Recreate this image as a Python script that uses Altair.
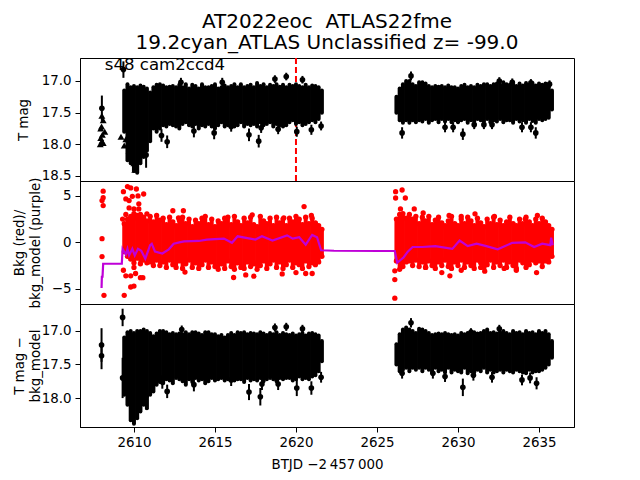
import altair as alt
import pandas as pd

X_A = [2609.4,2609.6,2609.8,2610.0,2610.2,2610.4,2610.6,2610.8,2611.0,2611.2,2611.4,2611.6,2611.8,2612.0,2612.2,2612.4,2612.6,2612.8,2613.0,2613.2,2613.4,2613.6,2613.8,2614.0,2614.2,2614.4,2614.6,2614.8,2615.0,2615.2,2615.4,2615.6,2615.8,2616.0,2616.2,2616.4,2616.6,2616.8,2617.0,2617.2,2617.4,2617.6,2617.8,2618.0,2618.2,2618.4,2618.6,2618.8,2619.0,2619.2,2619.4,2619.6,2619.8,2620.0,2620.2,2620.4,2620.6,2620.8,2621.0,2621.2,2621.4,2621.6]
X_B = [2626.2,2626.4,2626.6,2626.8,2627.0,2627.2,2627.4,2627.6,2627.8,2628.0,2628.2,2628.4,2628.6,2628.8,2629.0,2629.2,2629.4,2629.6,2629.8,2630.0,2630.2,2630.4,2630.6,2630.8,2631.0,2631.2,2631.4,2631.6,2631.8,2632.0,2632.2,2632.4,2632.6,2632.8,2633.0,2633.2,2633.4,2633.6,2633.8,2634.0,2634.2,2634.4,2634.6,2634.8,2635.0,2635.2,2635.4,2635.6,2635.8]

# top panel: extent of the mag error bars per time bin
A1_TOP = [17.15,17.05,17.1,17.08,17.1,17.07,17.09,17.12,17.18,17.1,17.06,17.05,17.07,17.1,17.09,17.08,17.1,17.06,17.1,17.05,17.12,17.06,17.08,17.12,17.05,17.1,17.1,17.08,17.05,17.12,17.1,17.07,17.1,17.08,17.05,17.1,17.05,17.1,17.08,17.06,17.1,17.03,17.08,17.05,17.1,17.06,17.08,17.05,17.09,17.06,17.1,17.06,17.08,17.05,17.08,17.1,17.06,17.1,17.07,17.08,17.1,17.15]
A1_BOT = [17.8,18.25,18.3,18.42,18.45,18.3,18.2,18.1,17.95,17.75,17.8,17.75,17.7,17.72,17.68,17.7,17.72,17.75,17.68,17.65,17.7,17.72,17.68,17.75,17.7,17.72,17.68,17.72,17.75,17.7,17.65,17.72,17.7,17.68,17.72,17.7,17.65,17.72,17.68,17.7,17.68,17.72,17.65,17.7,17.68,17.65,17.72,17.68,17.7,17.72,17.7,17.65,17.62,17.68,17.65,17.7,17.68,17.65,17.62,17.65,17.6,17.5]
B1_TOP = [17.25,17.12,17.05,17.0,17.0,17.05,17.08,17.02,17.02,17.04,17.08,17.1,17.08,17.09,17.08,17.1,17.07,17.1,17.1,17.12,17.08,17.06,17.1,17.08,17.1,17.06,17.08,17.05,17.05,17.08,17.05,17.04,17.06,17.02,17.05,17.06,17.04,17.08,17.04,17.07,17.03,17.06,17.03,17.07,17.04,17.06,17.04,17.08,17.15]
B1_BOT = [17.5,17.62,17.66,17.62,17.66,17.62,17.65,17.62,17.64,17.6,17.66,17.62,17.6,17.65,17.6,17.64,17.6,17.65,17.62,17.65,17.62,17.6,17.66,17.62,17.64,17.6,17.62,17.64,17.6,17.65,17.62,17.64,17.6,17.65,17.62,17.62,17.66,17.6,17.64,17.62,17.66,17.6,17.63,17.66,17.6,17.62,17.6,17.58,17.45]
P1_X = [2609.35,2608.02,2611.7,2612.05,2610.75,2613.7,2614.95,2612.9,2615.45,2618.7,2619.4,2620.4,2617.1,2617.7,2620.05,2620.95,2621.55,2618.9,2617.85,2616.0,2627.1,2626.55,2630.3,2629.2,2629.7,2631.0,2631.6,2632.1,2633.95,2634.5,2634.8,2632.55,2633.35,2634.5,2635.65]
P1_Y = [16.82,17.43,17.86,17.96,18.17,17.79,17.82,17.02,17.02,16.97,16.93,16.98,17.85,17.95,17.8,17.77,17.71,17.76,17.74,17.72,16.92,17.82,17.84,17.73,17.73,17.69,17.69,17.69,17.73,17.73,17.82,17.0,17.02,17.03,17.05]
P1_E = [0.13,0.2,0.1,0.1,0.2,0.1,0.1,0.07,0.07,0.06,0.06,0.06,0.1,0.1,0.08,0.08,0.07,0.08,0.08,0.08,0.07,0.09,0.09,0.08,0.08,0.07,0.07,0.07,0.08,0.08,0.09,0.06,0.06,0.06,0.06]
TRI_X = [2607.92,2608.1,2607.95,2608.05,2608.2,2608.0,2607.95,2608.1,2608.02,2608.02,2609.2,2609.4,2609.5,2609.7,2609.85,2610.0,2610.05]
TRI_Y = [18.0,17.98,17.9,17.85,17.8,17.72,17.75,17.62,17.55,17.95,17.88,18.02,17.92,18.1,18.2,18.3,18.4]

# middle panel: extent of the background cloud per time bin
A2_TOP = [2.0,2.5,2.8,3.1,2.6,3.0,2.7,2.3,2.8,2.2,2.9,2.4,2.6,1.9,2.7,2.2,1.8,2.4,2.7,2.0,2.5,1.7,2.4,2.0,2.6,2.8,1.9,2.5,1.7,2.3,2.0,2.6,2.7,1.9,2.8,2.2,1.8,2.6,2.1,2.7,1.9,1.7,2.8,2.3,2.0,2.6,1.8,2.7,2.1,2.5,1.8,2.6,2.2,2.8,2.5,1.9,2.7,2.0,2.6,2.1,1.8,1.4]
A2_BOT = [-1.0,-1.5,-1.8,-2.2,-1.7,-2.3,-1.9,-2.2,-2.1,-2.5,-1.9,-2.5,-2.1,-2.7,-1.9,-2.4,-2.7,-2.0,-2.8,-2.3,-1.9,-2.7,-2.2,-2.8,-2.4,-1.9,-2.7,-2.1,-2.6,-2.9,-2.3,-2.8,-2.0,-2.6,-2.9,-2.2,-2.7,-2.8,-2.1,-2.6,-2.3,-2.9,-2.5,-2.0,-2.8,-2.3,-1.9,-2.7,-2.1,-2.8,-2.4,-1.9,-2.7,-2.2,-2.4,-2.8,-2.0,-2.6,-2.2,-2.4,-2.1,-1.5]
B2_TOP = [2.5,3.0,3.1,2.6,3.0,2.5,2.8,2.0,2.7,2.3,2.8,1.9,2.4,2.7,2.1,1.8,2.3,2.8,2.0,1.8,2.5,2.0,2.7,2.3,1.8,2.6,2.1,1.7,2.5,2.0,2.7,1.9,2.4,1.8,2.2,2.7,2.0,1.8,2.5,2.0,2.7,2.2,1.8,2.5,2.0,2.6,2.2,1.8,1.4]
B2_BOT = [-2.0,-2.9,-2.6,-2.1,-2.0,-2.5,-1.9,-2.6,-2.1,-2.7,-2.0,-2.5,-2.8,-2.1,-2.5,-1.9,-2.6,-2.8,-2.1,-2.5,-1.9,-2.7,-2.1,-2.5,-2.8,-1.9,-2.2,-2.7,-2.4,-1.9,-2.7,-2.1,-2.5,-1.9,-2.7,-2.1,-2.5,-2.8,-1.9,-2.2,-2.7,-2.4,-1.9,-2.2,-2.0,-2.6,-2.0,-2.1,-1.5]
R_X = [2608.1,2608.1,2608.03,2608.1,2608.03,2608.03,2608.15,2609.4,2609.8,2610.0,2609.35,2610.0,2610.1,2609.8,2609.5,2610.4,2610.55,2609.6,2609.8,2610.15,2609.35,2610.6,2610.25,2609.9,2609.5,2609.7,2610.3,2609.7,2610.3,2610.0,2609.5,2609.3,2610.2,2609.7,2609.5,2612.4,2613.05,2610.8,2613.15,2612.75,2620.5,2617.3,2620.95,2619.25,2616.15,2617.4,2619.15,2620.0,2620.6,2621.0,2616.9,2626.55,2626.15,2626.15,2626.75,2626.45,2627.3,2626.1,2626.1,2626.1,2629.0,2629.5,2630.2,2631.65,2632.85,2633.6,2634.85,2631.4,2628.0,2631.05,2632.25,2629.45,2634.9,2630.2,2627.85,2634.15]
R_Y = [5.5,4.8,4.5,3.96,0.4,-1.53,-5.7,-5.7,-4.8,-4.7,-3.0,-2.7,-3.35,-3.6,-3.6,-3.8,-3.8,6.0,5.85,5.74,5.45,5.2,5.0,4.95,4.67,4.5,4.14,3.7,3.6,3.6,3.0,2.5,2.9,1.8,0.2,3.4,3.4,3.07,-3.2,2.64,3.85,2.96,2.9,2.64,-3.78,-3.64,-3.4,-3.25,-3.35,-3.35,-3.5,5.63,5.45,4.77,4.77,3.6,3.6,-6.0,-4.0,-3.06,-3.25,-3.6,-3.0,-3.1,-2.8,-3.0,-3.25,-2.7,-2.7,3.07,2.78,2.89,2.89,2.78,3.17,2.5]
M_X = [2608.0,2608.02,2608.06,2608.1,2609.25,2609.3,2609.5,2609.6,2609.7,2609.9,2610.05,2610.25,2610.45,2610.7,2611.0,2611.1,2611.3,2611.75,2612.15,2612.45,2612.8,2613.1,2614.0,2614.5,2615.0,2615.55,2616.05,2616.4,2617.0,2617.5,2617.9,2618.55,2619.45,2619.8,2620.2,2620.6,2621.0,2621.3,2621.55,2622.35,2625.15,2626.1,2626.25,2626.65,2626.9,2627.2,2627.8,2628.6,2629.65,2630.1,2630.6,2631.15,2631.75,2632.45,2633.35,2634.15,2634.7,2635.2,2635.7,2635.75,2635.85]
M_Y = [-4.9,-3.7,-3.7,-2.3,-2.3,-0.7,-1.3,-0.7,-1.4,-0.7,-1.4,-0.7,-0.9,-1.75,-0.3,-0.15,-1.0,-1.2,-0.75,-0.15,0.0,0.1,0.15,0.3,0.35,0.4,-0.05,0.65,0.45,0.3,0.65,0.2,0.75,0.4,0.55,-0.25,0.8,0.55,-0.85,-0.9,-0.93,-0.93,-2.2,-1.6,-1.0,-0.5,-0.5,-0.4,-0.7,0.2,-0.4,-0.15,-0.4,-0.75,-0.05,0.0,-0.5,-0.15,-0.3,0.5,-0.3]

# bottom panel
A3_TOP = [17.1,17.02,17.0,17.03,17.0,17.0,16.98,17.0,17.03,17.08,17.04,17.0,17.0,17.02,17.05,17.03,17.05,17.04,17.05,17.02,17.05,17.02,17.02,17.04,17.06,17.02,17.02,17.05,17.05,17.08,17.06,17.1,17.06,17.03,17.06,17.02,17.03,17.02,17.05,17.03,17.04,17.05,17.02,17.04,17.06,17.03,17.05,17.02,17.06,17.03,17.05,17.06,17.04,17.07,17.05,17.03,17.07,17.04,17.03,17.05,17.07,17.15]
A3_BOT = [17.95,18.1,18.33,18.38,18.3,18.2,18.1,18.15,17.95,17.9,17.8,17.76,17.78,17.72,17.74,17.78,17.7,17.72,17.75,17.8,17.72,17.76,17.7,17.74,17.72,17.78,17.75,17.7,17.74,17.72,17.7,17.74,17.72,17.7,17.74,17.72,17.72,17.76,17.7,17.74,17.72,17.74,17.7,17.75,17.72,17.7,17.72,17.75,17.7,17.72,17.7,17.7,17.74,17.72,17.68,17.72,17.7,17.72,17.68,17.66,17.6,17.45]
B3_TOP = [17.2,17.05,16.98,16.95,16.98,17.0,17.03,16.97,16.98,17.0,17.03,17.06,17.05,17.04,17.05,17.03,17.05,17.06,17.05,17.07,17.03,17.05,17.03,17.0,17.02,17.04,17.03,17.0,16.98,17.03,17.02,17.04,17.02,17.0,17.03,17.05,17.0,17.03,17.02,17.05,17.0,17.03,17.02,17.05,17.0,17.03,17.0,17.05,17.15]
B3_BOT = [17.5,17.6,17.58,17.55,17.6,17.55,17.58,17.55,17.6,17.55,17.58,17.62,17.55,17.6,17.58,17.62,17.55,17.62,17.58,17.6,17.62,17.55,17.63,17.6,17.62,17.58,17.6,17.55,17.62,17.58,17.62,17.6,17.58,17.62,17.58,17.6,17.62,17.58,17.6,17.62,17.63,17.58,17.62,17.6,17.6,17.58,17.55,17.5,17.4]
P3_X = [2609.3,2608.0,2608.0,2611.75,2612.05,2610.75,2613.7,2612.95,2609.3,2617.1,2617.8,2618.7,2619.4,2620.4,2620.05,2620.95,2621.55,2618.9,2617.9,2616.0,2627.1,2630.3,2626.55,2628.45,2629.2,2630.95,2632.55,2633.95,2634.45,2634.85,2632.1,2630.8]
P3_Y = [16.8,17.21,17.37,17.76,17.9,17.97,17.8,16.98,17.7,17.91,17.98,16.95,16.94,16.97,17.85,17.85,17.69,17.79,17.79,17.73,16.88,17.84,17.63,17.63,17.68,17.66,16.97,17.73,17.7,17.78,17.69,17.02]
P3_E = [0.13,0.25,0.2,0.1,0.1,0.2,0.1,0.06,0.3,0.12,0.13,0.06,0.06,0.06,0.12,0.1,0.08,0.09,0.09,0.09,0.07,0.13,0.08,0.08,0.08,0.08,0.06,0.08,0.08,0.09,0.08,0.06]

X_DOM = [2606.67, 2637.16]
W, H = 494, 123
BLACK, RED, PURPLE = "#000000", "#ff0000", "#bf00d8"
BAND = 4


def bands(x_a, a_top, a_bot, x_b, b_top, b_bot):
    return pd.DataFrame({"x": x_a + x_b, "top": a_top + b_top, "bot": a_bot + b_bot})


def xenc(show):
    if show:
        axis = alt.Axis(title="BTJD \u22122\u2009457\u2009000", values=[2610, 2615, 2620, 2625, 2630, 2635],
                        format="d", labelFlush=False, labelPadding=3, titlePadding=9)
    else:
        axis = None
    return alt.X("x:Q", scale=alt.Scale(domain=X_DOM, nice=False, zero=False), axis=axis)


def yaxis(title, values, expr, title_x):
    return alt.Axis(title=title, values=values, labelExpr=expr, titleX=title_x, titleAnchor="middle")


def black_layers(df, pts, show_x, yscale, yax):
    band = alt.Chart(df).mark_rule(color=BLACK, strokeWidth=BAND, strokeCap="round").encode(
        x=xenc(show_x), y=alt.Y("top:Q", scale=yscale, axis=yax), y2="bot:Q")
    err = alt.Chart(pts).mark_rule(color=BLACK, strokeWidth=2).encode(
        x=xenc(show_x), y=alt.Y("lo:Q", scale=yscale, axis=yax), y2="hi:Q")
    dots = alt.Chart(pts).mark_circle(color=BLACK, size=32, opacity=1).encode(
        x=xenc(show_x), y=alt.Y("y:Q", scale=yscale, axis=yax))
    return [band, err, dots]


def pts_frame(x, y, e):
    return pd.DataFrame({"x": x, "y": y, "lo": [a - b for a, b in zip(y, e)], "hi": [a + b for a, b in zip(y, e)]})


# top panel
s1 = alt.Scale(domain=[18.579, 16.637], nice=False, zero=False)
ax1 = yaxis("T mag", [17.0, 17.5, 18.0, 18.5], "format(datum.value, '.1f')", -50)
df1 = bands(X_A, A1_TOP, A1_BOT, X_B, B1_TOP, B1_BOT)
pts1 = pts_frame(P1_X, P1_Y, P1_E)
vline = alt.Chart(pd.DataFrame({"x": [2620.0]})).mark_rule(
    color=RED, strokeWidth=2, strokeDash=[6, 3]).encode(x=xenc(False))
tri = alt.Chart(pd.DataFrame({"x": TRI_X, "y": TRI_Y})).mark_point(
    shape="triangle-up", filled=True, color=BLACK, size=48, opacity=1).encode(
    x=xenc(False), y=alt.Y("y:Q", scale=s1, axis=ax1))
note = alt.Chart(pd.DataFrame({"x": [2608.2], "y": [16.74], "t": ["s48 cam2ccd4"]})).mark_text(
    align="left", baseline="middle", fontSize=16.6, font="DejaVu Sans", color=BLACK).encode(
    x=xenc(False), y=alt.Y("y:Q", scale=s1, axis=ax1), text="t:N")
p1 = alt.layer(vline, *black_layers(df1, pts1, False, s1, ax1), tri, note).properties(
    width=W, height=H,
    title=alt.TitleParams(text=["AT2022eoc \u00a0ATLAS22fme", "19.2cyan_ATLAS Unclassified z= -99.0"],
                          fontSize=20, font="DejaVu Sans", fontWeight="normal", color=BLACK,
                          anchor="middle", frame="group", offset=4, lineHeight=20.5))

# middle panel
s2 = alt.Scale(domain=[-6.63, 6.6], nice=False, zero=False)
ax2 = yaxis(["Bkg (red)/", "bkg_model (purple)"], [-5, 0, 5], "replace(format(datum.value, 'd'), '-', '\u2212')", -54)
df2 = bands(X_A, A2_TOP, A2_BOT, X_B, B2_TOP, B2_BOT)
red_band = alt.Chart(df2).mark_rule(color=RED, strokeWidth=BAND).encode(
    x=xenc(False), y=alt.Y("top:Q", scale=s2, axis=ax2), y2="bot:Q")
red_top = alt.Chart(df2).mark_circle(color=RED, size=28, opacity=1).encode(
    x=xenc(False), y=alt.Y("top:Q", scale=s2, axis=ax2))
red_bot = alt.Chart(df2).mark_circle(color=RED, size=28, opacity=1).encode(
    x=xenc(False), y=alt.Y("bot:Q", scale=s2, axis=ax2))
red_pts = alt.Chart(pd.DataFrame({"x": R_X, "y": R_Y})).mark_circle(color=RED, size=28, opacity=1).encode(
    x=xenc(False), y=alt.Y("y:Q", scale=s2, axis=ax2))
model = alt.Chart(pd.DataFrame({"x": M_X, "y": M_Y})).mark_line(color=PURPLE, strokeWidth=2.2).encode(
    x=xenc(False), y=alt.Y("y:Q", scale=s2, axis=ax2))
p2 = alt.layer(red_band, red_top, red_bot, red_pts, model).properties(width=W, height=H)

# bottom panel
s3 = alt.Scale(domain=[18.43, 16.6], nice=False, zero=False)
ax3 = yaxis(["T mag \u2212", "bkg_model"], [17.0, 17.5, 18.0], "format(datum.value, '.1f')", -54)
df3 = bands(X_A, A3_TOP, A3_BOT, X_B, B3_TOP, B3_BOT)
pts3 = pts_frame(P3_X, P3_Y, P3_E)
p3 = alt.layer(*black_layers(df3, pts3, True, s3, ax3)).properties(width=W, height=H)

chart = alt.vconcat(p1, p2, p3, spacing=0, bounds="flush").configure_axis(
    grid=False, domainColor=BLACK, tickColor=BLACK, labelColor=BLACK, titleColor=BLACK,
    labelFont="DejaVu Sans", titleFont="DejaVu Sans", labelFontSize=13.4, titleFontSize=13.4,
    titleFontWeight="normal", tickSize=5, labelPadding=4, titleLineHeight=16,
).configure_view(stroke=BLACK, strokeWidth=1).properties(padding={"left": 3, "top": 3, "right": 5, "bottom": 5})

chart.save("out.html", embed_options={"renderer": "svg", "actions": False})
